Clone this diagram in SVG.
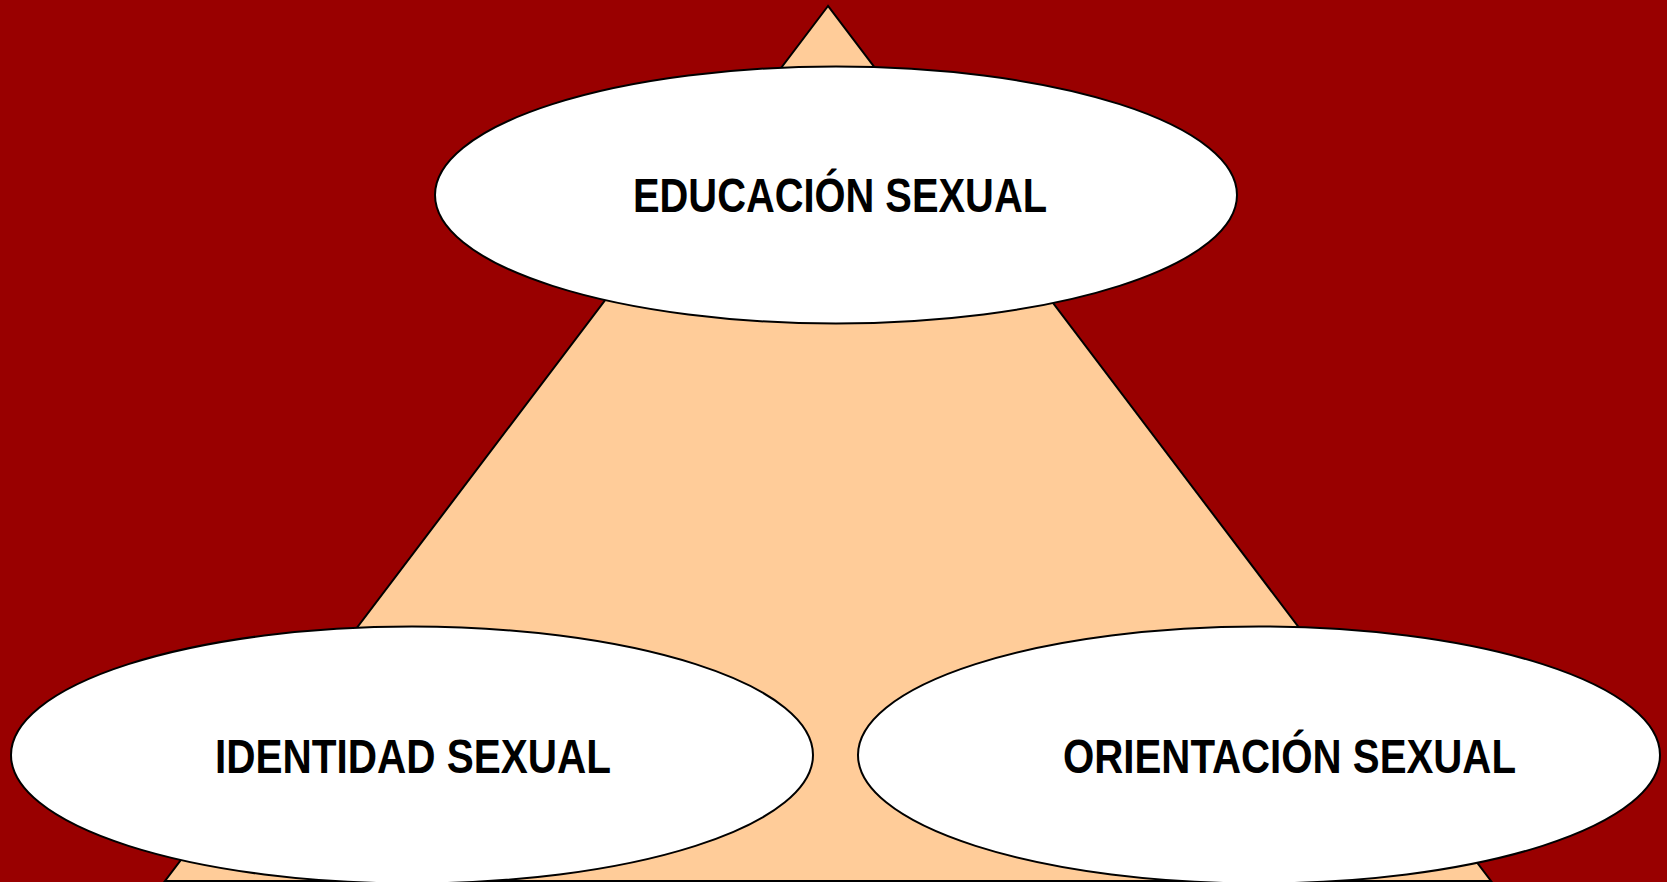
<svg xmlns="http://www.w3.org/2000/svg" width="1667" height="882" viewBox="0 0 1667 882">
<style>
.bg{fill:#990000}
.tri{fill:#FFCC99;stroke:#000;stroke-width:2;stroke-linejoin:miter}
.node ellipse{fill:#FFFFFF;stroke:#000;stroke-width:2}
.node text{font-family:"Liberation Sans Narrow","Liberation Sans",Arial,sans-serif;font-weight:bold;font-size:48px;fill:#000}
</style>
<rect class="bg" x="0" y="0" width="1667" height="882"/>
<g id="connectors">
<polygon class="tri" points="828,6 165,881 1491,881"/>
</g>
<g id="node-educacion" class="node">
<ellipse cx="836" cy="195" rx="401" ry="128.5"/>
<text x="633" y="212" textLength="414" lengthAdjust="spacingAndGlyphs">EDUCACIÓN SEXUAL</text>
</g>
<g id="node-identidad" class="node">
<ellipse cx="412" cy="755" rx="401" ry="128.5"/>
<text x="215" y="773" textLength="396" lengthAdjust="spacingAndGlyphs">IDENTIDAD SEXUAL</text>
</g>
<g id="node-orientacion" class="node">
<ellipse cx="1259" cy="755" rx="401" ry="128.5"/>
<text x="1063" y="773" textLength="453" lengthAdjust="spacingAndGlyphs">ORIENTACIÓN SEXUAL</text>
</g>
</svg>
